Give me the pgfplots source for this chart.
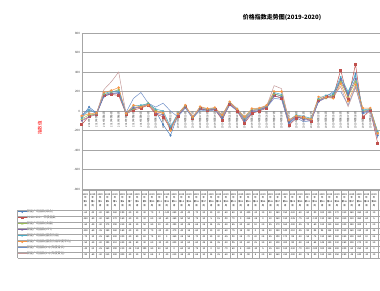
\documentclass[border=0pt]{standalone}
\usepackage{pgfplots}
\usepackage{pgfplotstable}
\pgfplotsset{compat=1.18}
\usepackage{fontspec}
\setmainfont{Noto Sans CJK SC}
\definecolor{cA}{HTML}{4F81BD}
\definecolor{cB}{HTML}{C0504D}
\definecolor{cC}{HTML}{9BBB59}
\definecolor{cD}{HTML}{8064A2}
\definecolor{cE}{HTML}{4BACC6}
\definecolor{cF}{HTML}{F79646}
\definecolor{cG}{HTML}{6F8FC8}
\definecolor{cH}{HTML}{C49A9A}
\definecolor{gridc}{HTML}{A6A6A6}
\definecolor{txtc}{HTML}{404040}

\pgfplotstableread{
x s1 s2 s3 s4 s5 s6 s7 s8
0 -60 -140 -80 -100 -70 -50 -40 -90
1 40 -50 -40 -60 10 -30 20 -60
2 -20 -30 -30 -35 -25 -20 -25 -30
3 150 160 170 150 180 190 160 220
4 180 170 190 180 200 210 190 300
5 190 160 220 180 200 240 210 400
6 -20 -30 -25 -20 -30 -25 -15 -30
7 30 10 20 30 50 60 130 20
8 40 30 50 40 60 40 190 50
9 70 60 80 70 75 60 80 65
10 0 -30 10 -20 20 -10 40 0
11 -140 -60 -30 -40 0 -20 80 -10
12 -250 -180 -190 -170 -160 -200 0 -210
13 -40 -50 -30 -40 -25 -30 -60 -35
14 40 50 45 35 55 60 30 40
15 -70 -75 -65 -60 -70 -60 -75 -65
16 20 30 25 20 40 45 10 30
17 10 5 15 10 20 25 0 15
18 20 15 25 20 30 35 10 25
19 -80 -90 -50 -60 -45 -40 -70 -60
20 80 70 85 75 90 95 60 80
21 10 0 20 15 25 20 5 15
22 -100 -125 -80 -90 -70 -60 -110 -90
23 -20 -25 10 0 20 25 -10 5
24 10 0 20 15 25 30 5 20
25 40 30 45 40 55 60 35 50
26 180 160 170 150 190 200 130 260
27 150 130 160 140 170 200 120 230
28 -120 -145 -100 -110 -95 -90 -130 -100
29 -60 -75 -45 -55 -40 -50 -70 -50
30 -80 -60 -70 -90 -55 -65 -110 -75
31 -90 -110 -80 -95 -75 -85 -100 -90
32 100 110 120 95 130 145 100 120
33 140 150 130 135 160 140 145 130
34 170 150 160 140 180 130 200 150
35 330 420 300 320 350 280 200 250
36 180 120 150 160 200 100 60 45
37 380 480 300 330 360 270 250 240
38 -20 -60 0 -10 10 30 -30 -10
39 10 5 20 15 25 30 0 10
40 -250 -330 -220 -240 -210 -230 -280 -260
}\datatab

\pgfplotsset{
  tabnum/.style={forget plot, only marks, mark=*, mark size=0pt,
    mark options={draw=none,fill=none},
    restrict x to domain=0:39.6,
    nodes near coords, point meta=explicit,
    every node near coord/.style={anchor=center, inner sep=0pt,
      font=\fontsize{2.3}{2.3}\selectfont, text=black}},
  ser/.style={line width=0.5pt, mark size=1pt}
}

\begin{document}
\begin{tikzpicture}[x=1pt,y=1pt]
\useasboundingbox (0,0) rectangle (380,290);
\clip (0,0) rectangle (380,290);
\fill[white] (0,0) rectangle (380,290);
\node[font=\bfseries\fontsize{6}{7}\selectfont] at (282,272) {价格指数走势图(2019-2020)};
\node[rotate=90, text=red, font=\fontsize{4.5}{5}\selectfont] at (40,162) {指数值};
\begin{axis}[
  at={(81.7pt,101pt)}, anchor=south west,
  scale only axis, width=310.8pt, height=156pt,
  xmin=0, xmax=42, ymin=-800, ymax=800,
  clip=false,
  axis x line*=middle, axis y line*=left,
  axis line style={gridc, line width=0.4pt},
  ytick={-800,-600,...,800},
  xtick={0,...,39},
  xticklabel={2019年第\the\numexpr\ticknum+1\relax 周},
  xticklabel style={rotate=90, anchor=east, font=\fontsize{2.6}{3}\selectfont, text=txtc, inner sep=0.8pt},
  yticklabel style={font=\fontsize{3}{3}\selectfont, text=txtc, inner sep=1.5pt},
  major tick length=0pt,
  ymajorgrids, grid style={gridc, line width=0.4pt},
  /pgf/number format/assume math mode=true,
  legend style={at={(-0.2066,-0.1346)}, anchor=north west, draw=none, fill=none,
    inner sep=0pt, outer sep=0pt, row sep=2.6pt,
    font=\fontsize{3}{3}\selectfont, text=txtc,
    nodes={inner sep=0.2pt, text height=2.4pt, text depth=0.6pt, anchor=west},
    /tikz/every even column/.append style={column sep=0.5pt}},
  legend cell align=left,
  legend image code/.code={\draw[mark repeat=2,mark phase=2] plot coordinates {(0pt,0pt) (4.5pt,0pt) (9pt,0pt)};},
]
\addplot[ser, cA, mark=diamond*] table[x=x,y=s1]{\datatab};
\addlegendentry{新能广场指数(综合)}
\addplot[ser, cB, mark=square*] table[x=x,y=s2]{\datatab};
\addlegendentry{2018=100：平移指数}
\addplot[ser, cC, mark=triangle*] table[x=x,y=s3]{\datatab};
\addlegendentry{新能广场指数(食品)}
\addplot[ser, cD, mark=x] table[x=x,y=s4]{\datatab};
\addlegendentry{新能广场指数(CPI)}
\addplot[ser, cE, mark=star] table[x=x,y=s5]{\datatab};
\addlegendentry{新能广场指数(服务价格)}
\addplot[ser, cF, mark=*] table[x=x,y=s6]{\datatab};
\addlegendentry{新能广场指数(服务价格年度平均)}
\addplot[ser, cG, mark=none] table[x=x,y=s7]{\datatab};
\addlegendentry{新能广场指数(Ln)(年度增长)}
\addplot[ser, cH, mark=none] table[x=x,y=s8]{\datatab};
\addlegendentry{新能广场指数(Ln)(年度变化)}
% data table values
\addplot[tabnum] table[x expr=\thisrow{x}+0.5, y expr=-1046.2, meta=s1]{\datatab};
\addplot[tabnum] table[x expr=\thisrow{x}+0.5, y expr=-1107.7, meta=s2]{\datatab};
\addplot[tabnum] table[x expr=\thisrow{x}+0.5, y expr=-1169.2, meta=s3]{\datatab};
\addplot[tabnum] table[x expr=\thisrow{x}+0.5, y expr=-1230.8, meta=s4]{\datatab};
\addplot[tabnum] table[x expr=\thisrow{x}+0.5, y expr=-1292.3, meta=s5]{\datatab};
\addplot[tabnum] table[x expr=\thisrow{x}+0.5, y expr=-1353.8, meta=s6]{\datatab};
\addplot[tabnum] table[x expr=\thisrow{x}+0.5, y expr=-1415.4, meta=s7]{\datatab};
\addplot[tabnum] table[x expr=\thisrow{x}+0.5, y expr=-1476.9, meta=s8]{\datatab};
\end{axis}
% data table grid
\begin{scope}[gridc, line width=0.3pt]
\draw (81.7,100) -- (380,100);
\draw (17.5,80) -- (380,80);
\foreach \k in {1,...,8} { \draw (17.5,{80-6*\k}) -- (380,{80-6*\k}); }
\draw (17.5,80) -- (17.5,32);
\foreach \k in {0,...,41} { \draw ({81.7+7.4*\k},100) -- ({81.7+7.4*\k},32); }
\end{scope}
\foreach \i in {0,...,39} {
  \node[align=center, font=\fontsize{2.3}{3.8}\selectfont, inner sep=0pt, text=black]
    at ({81.7+7.4*\i+3.7},90) {2019\\年\\第\the\numexpr\i+1\relax\\周};
}
\end{tikzpicture}
\end{document}
